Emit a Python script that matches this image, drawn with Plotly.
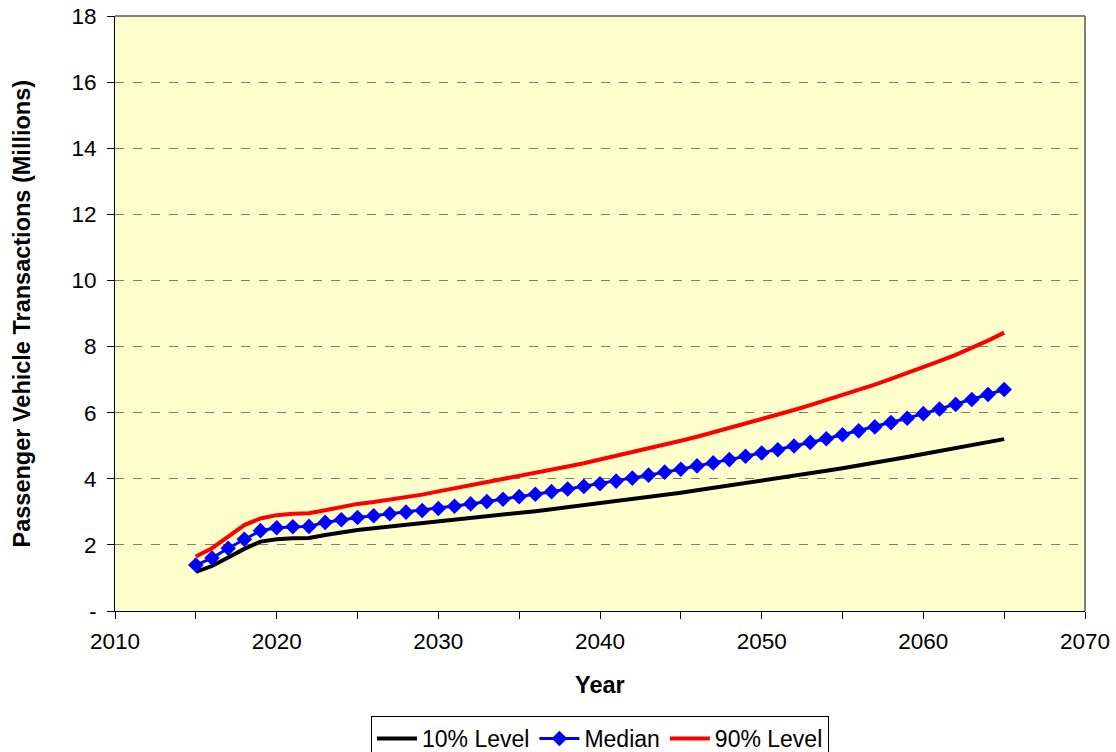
import plotly.graph_objects as go

years = list(range(2015, 2066))

level_10 = [1.18, 1.36, 1.62, 1.88, 2.10, 2.17, 2.20, 2.21, 2.30, 2.38,
            2.45, 2.50, 2.55, 2.60, 2.65, 2.70, 2.75, 2.80, 2.86, 2.91,
            2.97, 3.02, 3.08, 3.14, 3.20, 3.26, 3.32, 3.38, 3.45, 3.51,
            3.58, 3.65, 3.72, 3.79, 3.86, 3.93, 4.01, 4.08, 4.16, 4.24,
            4.32, 4.40, 4.49, 4.57, 4.66, 4.75, 4.84, 4.93, 5.02, 5.11,
            5.20]

median = [1.39, 1.60, 1.90, 2.17, 2.43, 2.52, 2.55, 2.56, 2.68, 2.76,
          2.83, 2.88, 2.94, 2.99, 3.04, 3.10, 3.17, 3.24, 3.31, 3.38,
          3.46, 3.53, 3.61, 3.69, 3.77, 3.85, 3.93, 4.02, 4.11, 4.20,
          4.29, 4.39, 4.48, 4.58, 4.68, 4.78, 4.88, 4.99, 5.10, 5.21,
          5.33, 5.45, 5.57, 5.70, 5.83, 5.97, 6.11, 6.25, 6.40, 6.55,
          6.70]

level_90 = [1.65, 1.90, 2.25, 2.60, 2.80, 2.90, 2.94, 2.96, 3.05, 3.15,
            3.24, 3.30, 3.37, 3.44, 3.52, 3.62, 3.71, 3.80, 3.89, 3.98,
            4.07, 4.17, 4.27, 4.37, 4.47, 4.58, 4.69, 4.80, 4.91, 5.03,
            5.15, 5.27, 5.40, 5.53, 5.66, 5.80, 5.94, 6.08, 6.23, 6.38,
            6.53, 6.69, 6.85, 7.02, 7.19, 7.37, 7.56, 7.75, 7.95, 8.18,
            8.42]

x_ticks = [2010, 2020, 2030, 2040, 2050, 2060, 2070]
y_ticks = [0, 2, 4, 6, 8, 10, 12, 14, 16, 18]
y_tick_text = ["-", "2", "4", "6", "8", "10", "12", "14", "16", "18"]

FONT = "Liberation Sans, Arial, sans-serif"

fig = go.Figure()
fig.add_trace(go.Scatter(x=years, y=level_10, name="10% Level", mode="lines",
                         line=dict(color="black", width=4)))
fig.add_trace(go.Scatter(x=years, y=median, name="Median", mode="lines+markers",
                         line=dict(color="#0000FF", width=3),
                         marker=dict(symbol="diamond", size=12, color="#0000FF")))
fig.add_trace(go.Scatter(x=years, y=level_90, name="90% Level", mode="lines",
                         line=dict(color="#FF0000", width=4)))

fig.update_layout(
    width=1116, height=752,
    margin=dict(l=115, r=31, t=16, b=141, autoexpand=False),
    paper_bgcolor="white",
    plot_bgcolor="#FFFFCC",
    font=dict(family=FONT, size=22, color="black"),
    showlegend=True,
    legend=dict(orientation="h", x=0.5, xanchor="center", y=-0.1765, yanchor="top",
                bordercolor="black", borderwidth=1, font=dict(size=23),
                tracegroupgap=0, itemwidth=40),
    xaxis=dict(range=[2010, 2070], tickvals=x_ticks, showgrid=False,
               automargin=False, ticklabeloverflow="allow",
               zeroline=False, showline=True, linecolor="black", linewidth=1,
               ticks="outside", ticklen=7, tickcolor="black",
               ticklabelstandoff=3,
               minor=dict(dtick=5, tick0=2010, ticks="outside", ticklen=7,
                          tickcolor="black", showgrid=False),
               tickfont=dict(size=22.5)),
    yaxis=dict(range=[0, 18], tickvals=y_ticks, ticktext=y_tick_text,
               automargin=False, ticklabeloverflow="allow",
               showgrid=True, gridcolor="#7F7F66", griddash="dash", gridwidth=1,
               zeroline=False, showline=True, linecolor="black", linewidth=1,
               ticks="outside", ticklen=7, tickcolor="black",
               ticklabelstandoff=6,
               tickfont=dict(size=22.5)),
    annotations=[
        dict(text="<b>Year</b>", xref="paper", yref="paper", x=0.5, y=-0.124,
             xanchor="center", yanchor="middle", showarrow=False,
             font=dict(size=23.5)),
        dict(text="<b>Passenger Vehicle Transactions (Millions)</b>",
             xref="paper", yref="paper", x=-0.0959, y=0.5, textangle=-90,
             xanchor="center", yanchor="middle", showarrow=False,
             font=dict(size=23.5)),
    ],
    shapes=[
        dict(type="line", xref="paper", yref="paper", x0=0, x1=1, y0=1, y1=1,
             line=dict(color="#808080", width=2)),
        dict(type="line", xref="paper", yref="paper", x0=1, x1=1, y0=0, y1=1,
             line=dict(color="#808080", width=2)),
    ],
)

fig.write_html("out.html", config={"displayModeBar": False},
               post_script="document.body.style.margin='0';")
